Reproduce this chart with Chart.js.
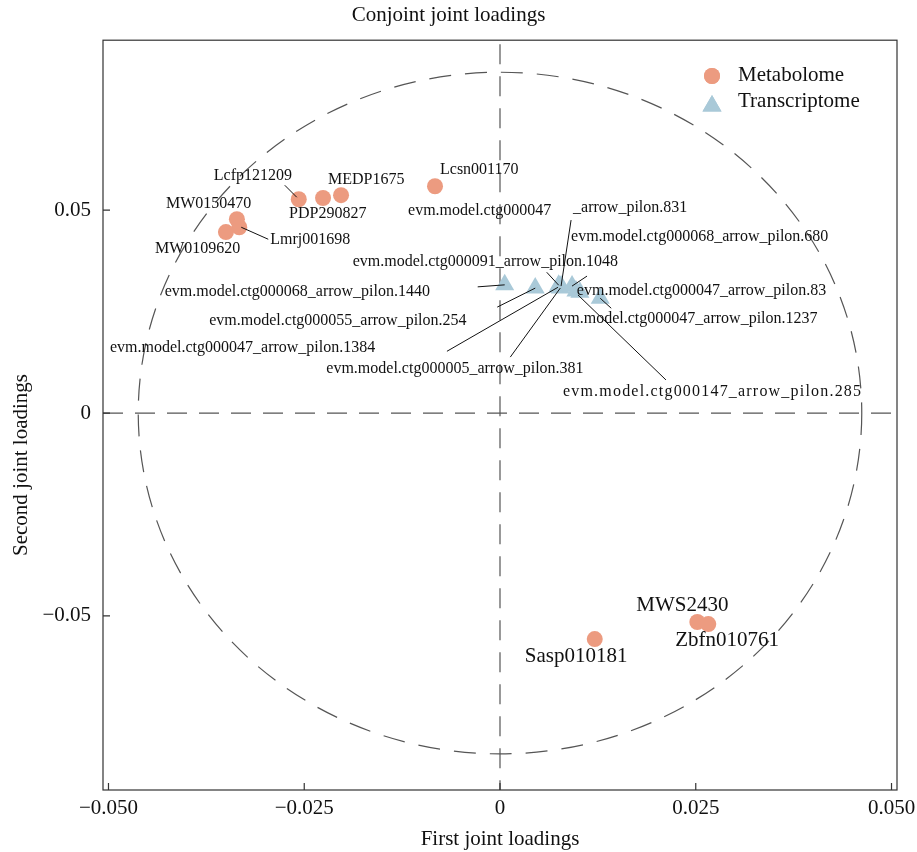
<!DOCTYPE html>
<html>
<head>
<meta charset="utf-8">
<title>Conjoint joint loadings</title>
<script src="https://cdn.jsdelivr.net/npm/chart.js@4.4.1/dist/chart.umd.min.js"></script>
<style>
  html, body { margin: 0; padding: 0; background: #fff; }
  #wrap { width: 917px; height: 852px; }
</style>
</head>
<body>
<div id="wrap"><canvas id="chart" width="917" height="852"></canvas></div>
<script>
const FONT = '"Liberation Serif", "DejaVu Serif", serif';
const TEXT = "#111";
const SALMON = "#EC9B80";
const BLUE = "#A9C9D8";

// metabolome loadings
const metaNames = ["Lcfp121209", "PDP290827", "MEDP1675", "Lcsn001170", "MW0150470",
  "Lmrj001698", "MW0109620", "Sasp010181", "MWS2430", "Zbfn010761"];
const metaX = [-0.0257, -0.0226, -0.0203, -0.0083, -0.0336, -0.0333, -0.0350, 0.0121, 0.0252, 0.0266];
const metaY = [0.0527, 0.0530, 0.0537, 0.0559, 0.0478, 0.0458, 0.0446, -0.0557, -0.0515, -0.0520];

// transcriptome loadings
const transNames = [
  "evm.model.ctg000068_arrow_pilon.1440",
  "evm.model.ctg000055_arrow_pilon.254",
  "evm.model.ctg000047_arrow_pilon.1384",
  "evm.model.ctg000005_arrow_pilon.381",
  "evm.model.ctg000047_arrow_pilon.831",
  "evm.model.ctg000091_arrow_pilon.1048",
  "evm.model.ctg000068_arrow_pilon.680",
  "evm.model.ctg000147_arrow_pilon.285",
  "evm.model.ctg000047_arrow_pilon.83",
  "evm.model.ctg000047_arrow_pilon.1237"
];
const transX = [0.0006, 0.0045, 0.0074, 0.0077, 0.0078, 0.0075, 0.0092, 0.0097, 0.0102, 0.0128];
const transY = [0.0316, 0.0308, 0.0310, 0.0308, 0.0313, 0.0315, 0.0313, 0.0301, 0.0298, 0.0283];

const xTicks = [-0.05, -0.025, 0, 0.025, 0.05];
const xTickLabels = ["\u22120.050", "\u22120.025", "0", "0.025", "0.050"];
const yTicks = [-0.05, 0, 0.05];
const yTickLabels = ["\u22120.05", "0", "0.05"];

// dashed reference ellipse (data units)
const RING_X = 0.0462;
const RING_Y = 0.0840;

// label text offsets in px from the point: tx/ty = text left/middle, line = [x0,y0,x1,y1]
const labelLayout = {
  "Lcfp121209": { tx: -85, ty: -23, line: [-14, -14, -2, -2] },
  "PDP290827": { tx: -34, ty: 16 },
  "MEDP1675": { tx: -13, ty: -15 },
  "Lcsn001170": { tx: 5, ty: -16 },
  "MW0150470": { tx: -71, ty: -15 },
  "Lmrj001698": { tx: 31, ty: 13, line: [29, 12, 2, 0] },
  "MW0109620": { tx: -71, ty: 17 },
  "Sasp010181": { tx: -70, ty: 17, big: true },
  "MWS2430": { tx: -61, ty: -17, big: true },
  "Zbfn010761": { tx: -33, ty: 16, big: true },
  "evm.model.ctg000068_arrow_pilon.1440": { tx: -340, ty: 7, line: [-27, 2, 0, 0] },
  "evm.model.ctg000055_arrow_pilon.254": { tx: -326, ty: 33, line: [-38, 19, 0, 0] },
  "evm.model.ctg000047_arrow_pilon.1384": { tx: -448, ty: 61, line: [-111, 64, 0, 0] },
  "evm.model.ctg000005_arrow_pilon.381": { tx: -234, ty: 81, line: [-50, 69, 0, 0] },
  "evm.model.ctg000047_arrow_pilon.831": { tx: -153, ty: -75, split: 19, tx2: 12, ty2: -78, line: [10, -66, 0, 0] },
  "evm.model.ctg000091_arrow_pilon.1048": { tx: -206, ty: -23, line: [-12, -13, 0, 0] },
  "evm.model.ctg000068_arrow_pilon.680": { tx: -1, ty: -49, line: [15, -10, 0, 0] },
  "evm.model.ctg000147_arrow_pilon.285": { tx: -13, ty: 101, spacing: "1.2px", line: [90, 89, 2, 4] },
  "evm.model.ctg000047_arrow_pilon.83": { tx: -3, ty: -1 },
  "evm.model.ctg000047_arrow_pilon.1237": { tx: -48, ty: 21, line: [11, 10, 0, 0] }
};
const labelNames = [metaNames, transNames];

Chart.defaults.font.family = FONT;
Chart.defaults.color = TEXT;

const backdrop = {
  id: "backdrop",
  beforeDatasetsDraw(chart) {
    const { ctx, chartArea: a, scales: { x, y } } = chart;
    const cx = x.getPixelForValue(0);
    const cy = y.getPixelForValue(0);
    ctx.save();
    ctx.strokeStyle = "#555";
    ctx.lineWidth = 1.2;
    // reference lines through the origin
    ctx.setLineDash([20, 12]);
    ctx.beginPath();
    ctx.moveTo(cx, a.top + 4);
    ctx.lineTo(cx, a.bottom);
    ctx.moveTo(a.left, cy);
    ctx.lineTo(a.right - 6, cy);
    ctx.stroke();
    // ring
    ctx.setLineDash([22, 14]);
    ctx.beginPath();
    ctx.ellipse(cx, cy, x.getPixelForValue(RING_X) - cx, cy - y.getPixelForValue(RING_Y), 0, 0, Math.PI * 2);
    ctx.stroke();
    ctx.restore();
  },
  afterDatasetsDraw(chart) {
    const { ctx } = chart;
    ctx.save();
    ctx.strokeStyle = "#111";
    ctx.lineWidth = 1;
    ctx.fillStyle = TEXT;
    ctx.textAlign = "left";
    ctx.textBaseline = "middle";
    labelNames.forEach((names, di) => {
      const meta = chart.getDatasetMeta(di);
      names.forEach((name, i) => {
        const pt = meta.data[i];
        const p = labelLayout[name];
        if (!p) return;
        if (p.line) {
          ctx.beginPath();
          ctx.moveTo(pt.x + p.line[0], pt.y + p.line[1]);
          ctx.lineTo(pt.x + p.line[2], pt.y + p.line[3]);
          ctx.stroke();
        }
        ctx.font = (p.big ? "21px " : "16px ") + FONT;
        ctx.letterSpacing = p.spacing || "0px";
        if (p.split) {
          ctx.fillText(name.slice(0, p.split), pt.x + p.tx, pt.y + p.ty);
          ctx.fillText(name.slice(p.split), pt.x + p.tx2, pt.y + p.ty2);
        } else {
          ctx.fillText(name, pt.x + p.tx, pt.y + p.ty);
        }
      });
    });
    ctx.letterSpacing = "0px";
    ctx.restore();
  },
  afterDraw(chart) {
    const { ctx, chartArea: a, scales: { x, y } } = chart;
    ctx.save();
    // frame
    ctx.strokeStyle = "#333";
    ctx.lineWidth = 1.2;
    ctx.strokeRect(a.left, a.top, a.right - a.left, a.bottom - a.top);
    // inward ticks
    ctx.beginPath();
    xTicks.forEach(v => {
      const px = x.getPixelForValue(v);
      ctx.moveTo(px, a.bottom);
      ctx.lineTo(px, a.bottom - 7);
    });
    yTicks.forEach(v => {
      const py = y.getPixelForValue(v);
      ctx.moveTo(a.left, py);
      ctx.lineTo(a.left + 7, py);
    });
    ctx.stroke();
    // y title
    ctx.fillStyle = TEXT;
    ctx.font = "21px " + FONT;
    ctx.textAlign = "center";
    ctx.textBaseline = "alphabetic";
    ctx.translate(27, 465);
    ctx.rotate(-Math.PI / 2);
    ctx.fillText("Second joint loadings", 0, 0);
    ctx.restore();

    // legend
    const items = [
      { text: "Metabolome", style: "circle", r: 8, color: SALMON, x: 712, y: 76, ty: 75 },
      { text: "Transcriptome", style: "triangle", r: 11, color: BLUE, x: 712, y: 106, ty: 101 }
    ];
    ctx.save();
    items.forEach(it => {
      ctx.fillStyle = it.color;
      Chart.helpers.drawPoint(ctx, { pointStyle: it.style, radius: it.r, rotation: 0, borderWidth: 0 }, it.x, it.y);
      ctx.fill();
      ctx.fillStyle = TEXT;
      ctx.font = "21px " + FONT;
      ctx.textAlign = "left";
      ctx.textBaseline = "middle";
      ctx.fillText(it.text, 738, it.ty);
    });
    ctx.restore();
  }
};

new Chart(document.getElementById("chart"), {
  type: "scatter",
  data: {
    datasets: [
      {
        label: "Metabolome",
        data: metaX.map((v, i) => ({ x: v, y: metaY[i] })),
        pointStyle: "circle",
        pointRadius: 8,
        backgroundColor: SALMON,
        borderWidth: 0
      },
      {
        label: "Transcriptome",
        data: transX.map((v, i) => ({ x: v, y: transY[i] })),
        pointStyle: "triangle",
        pointRadius: 11,
        backgroundColor: BLUE,
        borderWidth: 0
      }
    ]
  },
  options: {
    responsive: false,
    animation: false,
    devicePixelRatio: 1,
    layout: { padding: { left: 0, right: 20, top: 0, bottom: 0 } },
    plugins: {
      legend: { display: false },
      tooltip: { enabled: false },
      title: {
        display: true,
        text: "Conjoint joint loadings",
        color: TEXT,
        font: { size: 21, weight: "normal" },
        padding: { top: 3, bottom: 12 }
      }
    },
    scales: {
      x: {
        type: "linear",
        min: -0.0507,
        max: 0.0507,
        afterBuildTicks: s => { s.ticks = xTicks.map(v => ({ value: v })); },
        afterFit: s => { s.height = 62; s.paddingLeft = 0; s.paddingRight = 0; },
        grid: { display: false, drawTicks: false },
        border: { display: false },
        ticks: {
          autoSkip: false,
          maxRotation: 0,
          padding: 6,
          color: TEXT,
          font: { size: 21 },
          callback: (v, i) => xTickLabels[i]
        },
        title: {
          display: true,
          text: "First joint loadings",
          color: TEXT,
          font: { size: 21 },
          padding: { top: 0, bottom: 0 }
        }
      },
      y: {
        type: "linear",
        min: -0.0929,
        max: 0.0919,
        afterBuildTicks: s => { s.ticks = yTicks.map(v => ({ value: v })); },
        afterFit: s => { s.width = 103; s.paddingTop = 0; s.paddingBottom = 0; },
        grid: { display: false, drawTicks: false },
        border: { display: false },
        ticks: {
          padding: 12,
          color: TEXT,
          font: { size: 21 },
          callback: (v, i) => yTickLabels[i]
        }
      }
    }
  },
  plugins: [backdrop]
});
</script>
</body>
</html>
